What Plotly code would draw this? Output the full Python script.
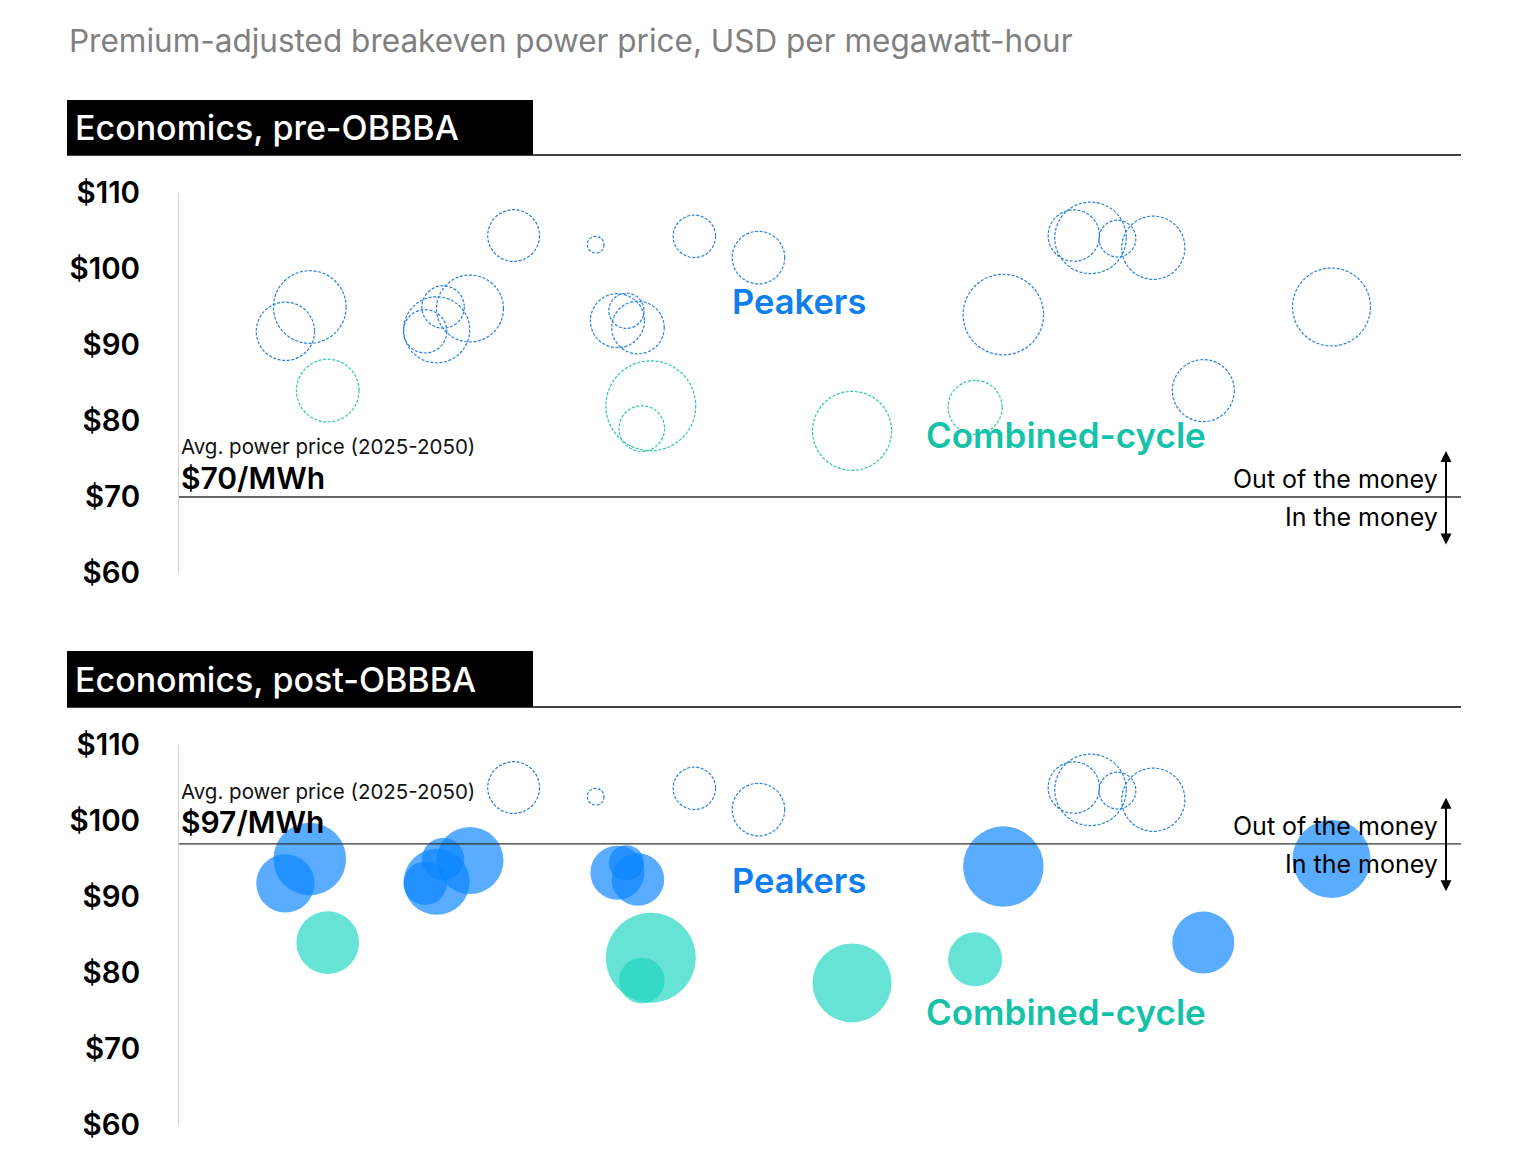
import math
import plotly.graph_objects as go
from plotly.subplots import make_subplots

# Bubble data (same plants in both panels)
peaker_x = [10.2, 8.3, 26.1, 32.5, 40.2, 45.2, 22.7, 20.6, 20.1, 19.2,
            34.2, 34.9, 35.8, 64.3, 71.1, 69.8, 73.2, 76.0, 89.9, 79.9]
peaker_price = [95.0, 91.8, 104.4, 103.2, 104.3, 101.5, 94.8, 95.0, 92.0, 91.8,
                93.2, 94.5, 92.3, 94.0, 104.1, 104.4, 104.0, 102.8, 95.0, 84.0]
peaker_size = [660, 425, 335, 35, 225, 345, 560, 225, 545, 235,
               365, 155, 345, 810, 640, 330, 170, 500, 760, 480]

cc_x = [11.6, 36.8, 36.1, 52.5, 62.1]
cc_price = [84.0, 82.0, 79.0, 78.7, 81.8]
cc_size = [490, 1010, 260, 780, 365]

panel_titles = ['Economics, pre-OBBBA', 'Economics, post-OBBBA']
avg_price = [70, 97]
y_ticks = [60, 70, 80, 90, 100, 110]
y_tick_text = ['$60', '$70', '$80', '$90', '$100', '$110']

BLUE = '#0A84FF'
BLUE_LINE = '#2a82e0'
BLUE_TEXT = '#0f7fef'
TEAL = '#1ed6bf'
TEAL_LINE = '#2ec6ae'
TEAL_TEXT = '#14c2a9'
FONT = 'Inter'
SIZEREF = 0.25
PX_PER_DOLLAR = 7.6


def bubble_radius(v):
    # same rule plotly uses for sizemode='area'
    return math.sqrt(v / (2 * SIZEREF))


fig = make_subplots(rows=2, cols=1)

x_dom = [179 / 1536, 1461 / 1536]
y_doms = [[(1155 - 573) / 1155, (1155 - 193) / 1155],
          [(1155 - 1125) / 1155, (1155 - 745) / 1155]]

shapes = []
annotations = []

groups = [
    (peaker_x, peaker_price, peaker_size, BLUE, BLUE_LINE),
    (cc_x, cc_price, cc_size, TEAL, TEAL_LINE),
]

for p in range(2):
    row = p + 1
    xa = 'x' if p == 0 else 'x2'
    ya = 'y' if p == 0 else 'y2'
    avg = avg_price[p]

    for xs, ys, ss, fill, line in groups:
        # in the money -> filled bubble
        fx = [x for x, y in zip(xs, ys) if y < avg]
        fy = [y for y in ys if y < avg]
        fs = [s for s, y in zip(ss, ys) if y < avg]
        if fx:
            fig.add_trace(go.Scatter(
                x=fx, y=fy, mode='markers',
                marker=dict(size=fs, sizemode='area', sizeref=SIZEREF,
                            color=fill, opacity=0.68, line=dict(width=0)),
                showlegend=False, hoverinfo='y'),
                row=row, col=1)
        # out of the money -> dashed outline
        for x, y, s in zip(xs, ys, ss):
            if y >= avg:
                r = bubble_radius(s)
                shapes.append(dict(
                    type='circle', xref=xa, yref=ya,
                    xsizemode='pixel', ysizemode='pixel',
                    xanchor=x, yanchor=y, x0=-r, x1=r, y0=-r, y1=r,
                    line=dict(color=line, width=1.2, dash='3px,1.6px'),
                    layer='above'))

    # average power price line
    shapes.append(dict(type='line', xref=xa + ' domain', yref=ya,
                       x0=0, x1=1, y0=avg, y1=avg,
                       line=dict(color='#333333', width=1.3)))

    # panel header: black box + rule
    top = y_doms[p][1]
    box_top = top + (193 - 100) / 1155 if p == 0 else top + (745 - 651) / 1155
    box_bot = top + (193 - 155) / 1155 if p == 0 else top + (745 - 707) / 1155
    shapes.append(dict(type='rect', xref='paper', yref='paper',
                       x0=67 / 1536, x1=533 / 1536, y0=box_bot, y1=box_top,
                       fillcolor='black', line=dict(width=0)))
    shapes.append(dict(type='line', xref='paper', yref='paper',
                       x0=67 / 1536, x1=1461 / 1536, y0=box_bot, y1=box_bot,
                       line=dict(color='black', width=1.5)))
    annotations.append(dict(
        text=panel_titles[p], xref='paper', yref='paper',
        x=73 / 1536, y=(box_top + box_bot) / 2, xanchor='left', yanchor='middle',
        showarrow=False, font=dict(family=FONT, size=34, color='white', weight=500)))

    # avg price label
    label_y = avg + 6.6 if p == 0 else avg + 6.9
    annotations.append(dict(
        text='Avg. power price (2025-2050)', xref=xa + ' domain', yref=ya,
        x=0, y=label_y, xanchor='left', yanchor='middle', showarrow=False,
        font=dict(family=FONT, size=20.5, color='#111111')))
    annotations.append(dict(
        text=f'${avg}/MWh', xref=xa + ' domain', yref=ya,
        x=0, y=label_y - 4.05, xanchor='left', yanchor='middle', showarrow=False,
        font=dict(family=FONT, size=30, color='black', weight=600)))

    # money labels and arrow
    annotations.append(dict(
        text='Out of the money', xref=xa + ' domain', yref=ya,
        x=0.9837, y=avg + 2.4, xanchor='right', yanchor='middle', showarrow=False,
        font=dict(family=FONT, size=25, color='black')))
    annotations.append(dict(
        text='In the money', xref=xa + ' domain', yref=ya,
        x=0.9837, y=avg - 2.6, xanchor='right', yanchor='middle', showarrow=False,
        font=dict(family=FONT, size=25, color='black')))
    annotations.append(dict(
        text='', xref=xa + ' domain', yref=ya,
        x=0.9883, y=avg + 46 / PX_PER_DOLLAR, ax=0, ay=95,
        showarrow=True, arrowhead=2, arrowside='end+start',
        arrowsize=1.1, arrowwidth=2, arrowcolor='black'))

    # series labels
    pk_y = 95.7 if p == 0 else 92.2
    cc_y = 78.2 if p == 0 else 74.9
    annotations.append(dict(
        text='Peakers', xref=xa, yref=ya, x=42.95, y=pk_y,
        xanchor='left', yanchor='middle', showarrow=False,
        font=dict(family=FONT, size=34.5, color=BLUE_TEXT, weight=600)))
    annotations.append(dict(
        text='Combined-cycle', xref=xa, yref=ya, x=58.15, y=cc_y,
        xanchor='left', yanchor='middle', showarrow=False,
        font=dict(family=FONT, size=35, color=TEAL_TEXT, weight=600)))

annotations.append(dict(
    text='Premium-adjusted breakeven power price, USD per megawatt-hour',
    xref='paper', yref='paper', x=67 / 1536, y=(1155 - 40) / 1155,
    xanchor='left', yanchor='middle', showarrow=False,
    font=dict(family=FONT, size=31.5, color='#808080')))

axis_y = dict(range=[60, 110], tickvals=y_ticks, ticktext=y_tick_text,
              showgrid=False, zeroline=False, showline=True,
              linecolor='#d4d4d4', linewidth=1, ticks='',
              ticklabelstandoff=32, automargin=False,
              tickfont=dict(family=FONT, size=29.5, color='black', weight=600))
axis_x = dict(range=[0, 100], visible=False, showgrid=False, zeroline=False,
              automargin=False)

fig.update_layout(
    width=1536, height=1155,
    margin=dict(l=0, r=0, t=0, b=0, autoexpand=False),
    paper_bgcolor='white', plot_bgcolor='white',
    showlegend=False,
    shapes=shapes, annotations=annotations,
    xaxis=dict(axis_x, domain=x_dom),
    xaxis2=dict(axis_x, domain=x_dom),
    yaxis=dict(axis_y, domain=y_doms[0]),
    yaxis2=dict(axis_y, domain=y_doms[1]),
)

fig.write_html('out.html', config={'displayModeBar': False},
               post_script="document.body.style.margin='0px';")
